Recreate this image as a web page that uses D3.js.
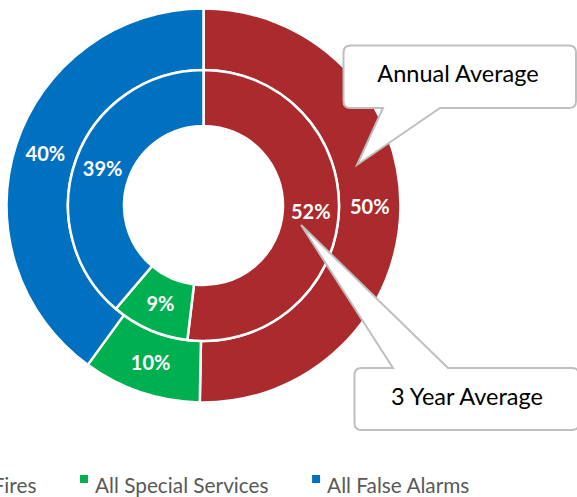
<!DOCTYPE html>
<html>
<head>
<meta charset="utf-8">
<script src="https://cdn.jsdelivr.net/npm/d3@7"></script>
<style>
  body { margin: 0; background: #fff; }
  svg { display: block; font-family: Lato, "Open Sans", sans-serif; }
</style>
</head>
<body>
<script>

var width = 577;
var height = 497;

// data
var categories = ["All Fires", "All Special Services", "All False Alarms"];
var annualValues = [50.3, 9.7, 40.0];
var threeYearValues = [51.9, 9.3, 38.8];
var seriesNames = ["Annual Average", "3 Year Average"];
var colors = ["#ab2a2d", "#00b050", "#0070c0"];

var cx = 203.5, cy = 205.5;

var svg = d3.select("body")
    .append("svg")
    .attr("width", width)
    .attr("height", height);

var color = d3.scaleOrdinal().domain(categories).range(colors);
var pie = d3.pie().sort(null).value(function(d) { return d.value; });
var pct = d3.format(".0%");

var rings = [
  {name: seriesNames[0], values: annualValues, inner: 135.5, outer: 197},
  {name: seriesNames[1], values: threeYearValues, inner: 79.5, outer: 135.5}
];

var g = svg.append("g").attr("transform", "translate(" + cx + "," + cy + ")");

rings.forEach(function(ring) {
  var data = categories.map(function(c, i) { return {cat: c, value: ring.values[i]}; });
  var total = d3.sum(ring.values);
  var arcs = pie(data);
  ring.arcs = arcs;
  var arc = d3.arc().innerRadius(ring.inner).outerRadius(ring.outer);
  var labelArc = d3.arc().innerRadius((ring.inner + ring.outer) / 2).outerRadius((ring.inner + ring.outer) / 2);

  g.append("g").selectAll("path")
    .data(arcs)
    .enter().append("path")
    .attr("d", arc)
    .attr("fill", function(d) { return color(d.data.cat); })
    .attr("stroke", "#fff")
    .attr("stroke-width", 2.5);

  g.append("g").selectAll("text")
    .data(arcs)
    .enter().append("text")
    .attr("transform", function(d) { return "translate(" + labelArc.centroid(d) + ")"; })
    .attr("text-anchor", "middle")
    .attr("dy", "0.36em")
    .attr("fill", "#fff")
    .attr("font-weight", "bold")
    .attr("font-size", "20px")
    .text(function(d) { return pct(d.value / total); });
});

// point inside a slice, by fraction of its angle and a radius
function polar(a, r) {
  return [cx + r * Math.sin(a), cy - r * Math.cos(a)];
}

function calloutPath(x0, y0, x1, y1, r, side, p1, p2, tip) {
  var s = "M" + (x0 + r) + "," + y0;
  if (side == "top") s += "L" + p1 + "," + y0 + "L" + tip[0] + "," + tip[1] + "L" + p2 + "," + y0;
  s += "L" + (x1 - r) + "," + y0 + "Q" + x1 + "," + y0 + " " + x1 + "," + (y0 + r);
  s += "L" + x1 + "," + (y1 - r) + "Q" + x1 + "," + y1 + " " + (x1 - r) + "," + y1;
  if (side == "bottom") s += "L" + p2 + "," + y1 + "L" + tip[0] + "," + tip[1] + "L" + p1 + "," + y1;
  s += "L" + (x0 + r) + "," + y1 + "Q" + x0 + "," + y1 + " " + x0 + "," + (y1 - r);
  s += "L" + x0 + "," + (y0 + r) + "Q" + x0 + "," + y0 + " " + (x0 + r) + "," + y0 + "Z";
  return s;
}

var a0 = rings[0].arcs[0], a1 = rings[1].arcs[0];
var callouts = [
  {text: seriesNames[0], box: [343.5, 45.5, 576, 108], side: "bottom", p1: 383, p2: 440,
   tip: polar(a0.startAngle + 0.415 * (a0.endAngle - a0.startAngle), 159), tx: 458, ty: 82},
  {text: seriesNames[1], box: [354.5, 368, 579, 430], side: "top", p1: 393, p2: 448,
   tip: polar(a1.startAngle + 0.542 * (a1.endAngle - a1.startAngle), 99.5), tx: 467, ty: 405}
];

var co = svg.append("g").selectAll("g")
  .data(callouts)
  .enter().append("g");

co.append("path")
  .attr("d", function(d) { return calloutPath(d.box[0], d.box[1], d.box[2], d.box[3], 7, d.side, d.p1, d.p2, d.tip); })
  .attr("fill", "#fff")
  .attr("stroke", "#bfbfbf")
  .attr("stroke-width", 2);

co.append("text")
  .attr("x", function(d) { return d.tx; })
  .attr("y", function(d) { return d.ty; })
  .attr("text-anchor", "middle")
  .attr("font-size", "23.5px")
  .attr("fill", "#000")
  .text(function(d) { return d.text; });

// legend, anchored on the second item
var legend = svg.append("g");
var items = legend.selectAll("g")
  .data(categories)
  .enter().append("g");

items.append("rect")
  .attr("width", 8)
  .attr("height", 8)
  .attr("y", 475)
  .attr("fill", function(d) { return color(d); });

items.append("text")
  .attr("x", 15)
  .attr("y", 492.5)
  .attr("font-size", "20.8px")
  .attr("fill", "#595959")
  .text(function(d) { return d; });

var widths = [];
items.select("text").each(function() { widths.push(15 + this.getComputedTextLength()); });
var gap = 43.5;
var xs = [80 - gap - widths[0], 80, 80 + widths[1] + gap];
items.attr("transform", function(d, i) { return "translate(" + xs[i] + ",0)"; });

</script>
</body>
</html>
